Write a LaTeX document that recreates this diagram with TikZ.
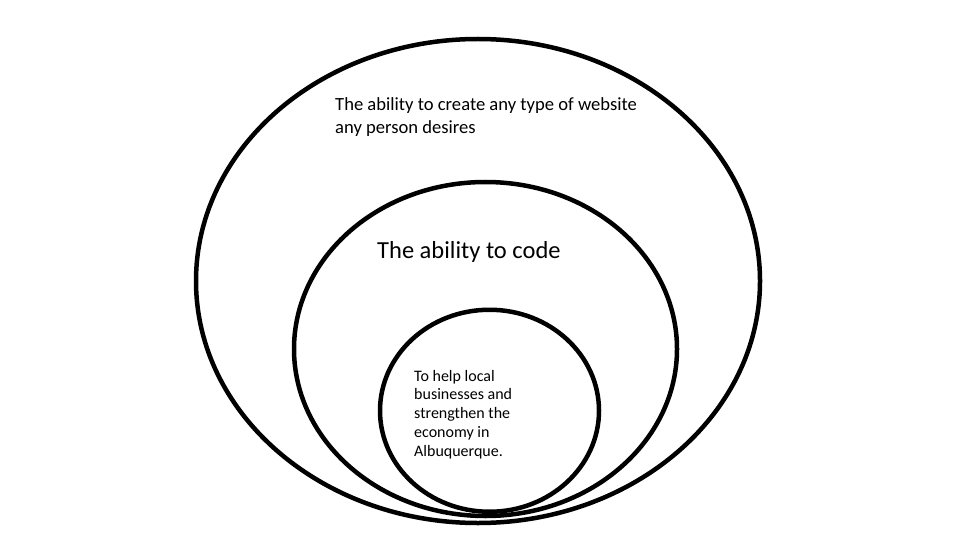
\documentclass[tikz,border=0pt]{standalone}
\usepackage{fontspec}
\setmainfont{Carlito}
\begin{document}
\begin{tikzpicture}[x=1pt,y=-1pt,
  ring/.style={draw=black,line width=4.5pt},
  lbl/.style={inner sep=0pt,anchor=base west,align=left,text=black}]
\useasboundingbox[fill=white] (0,0) rectangle (960,540);
\draw[ring] (478,281) ellipse [x radius=282,y radius=242];
\draw[ring] (485.5,349) ellipse [x radius=191.5,y radius=167];
\draw[ring] (489.5,410.75) ellipse [x radius=109.5,y radius=101];
% anchor "base" of a multi-line node is the baseline of its last line
\node[lbl,font=\fontsize{18.6}{23}\selectfont] (outer) at (335,134) {The ability to create any type of website\\any person desires};
\node[lbl,font=\fontsize{24.5}{28}\selectfont] (middle) at (377,258) {The ability to code};
\node[lbl,font=\fontsize{16}{18.75}\selectfont] (inner) at (414,456) {To help local\\businesses and\\strengthen the\\economy in\\Albuquerque.};
\end{tikzpicture}
\end{document}
